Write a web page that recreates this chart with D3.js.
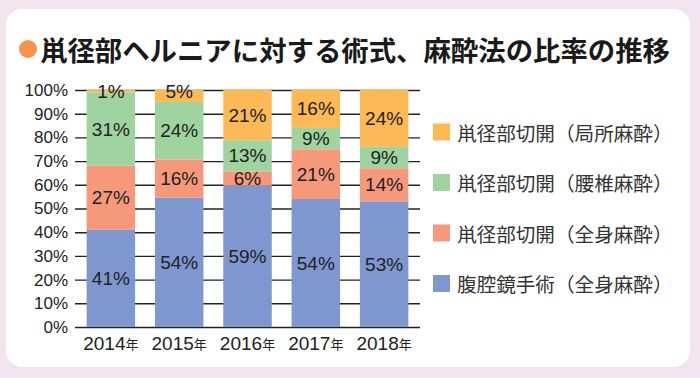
<!DOCTYPE html>
<html><head><meta charset="utf-8">
<script src="https://cdn.jsdelivr.net/npm/d3@7"></script>
<style>
html,body{margin:0;padding:0;background:#f3e5f0;}
svg{display:block;}
</style></head>
<body>
<svg id="chart" width="700" height="378"></svg>
<script>
const years = ["2014", "2015", "2016", "2017", "2018"];
const seriesNames = ["腹腔鏡手術（全身麻酔）", "鼡径部切開（全身麻酔）", "鼡径部切開（腰椎麻酔）", "鼡径部切開（局所麻酔）"];
const laparoscopicGeneral = [41, 54, 59, 54, 53];
const openGeneral = [27, 16, 6, 21, 14];
const openSpinal = [31, 24, 13, 9, 9];
const openLocal = [1, 5, 21, 16, 24];
const yTicks = [0, 10, 20, 30, 40, 50, 60, 70, 80, 90, 100];
const colors = ["#7e97cf", "#f5997a", "#9fd39f", "#fdb956"];
const titleText = "鼡径部ヘルニアに対する術式、麻酔法の比率の推移";

const svg = d3.select("#chart");
svg.append("rect").attr("x", 6).attr("y", 9).attr("width", 684).attr("height", 358)
  .attr("rx", 16).attr("fill", "#ffffff");

svg.append("circle").attr("cx", 28).attr("cy", 49).attr("r", 9).attr("fill", "#f7944a");
svg.append("text").attr("x", 40).attr("y", 49).attr("dominant-baseline", "central")
  .attr("font-family", "'Noto Sans CJK JP'").attr("font-weight", "bold")
  .attr("font-size", 27.4).attr("fill", "#1a1a1a").text(titleText);

const rows = years.map((y, i) => ({
  year: y, s0: laparoscopicGeneral[i], s1: openGeneral[i], s2: openSpinal[i], s3: openLocal[i]
}));
const keys = ["s0", "s1", "s2", "s3"];
const stacked = d3.stack().keys(keys).offset(d3.stackOffsetExpand)(rows);

const x = d3.scaleBand().domain(years).range([75, 420]).paddingInner(0.29).paddingOuter(0.17);
const y = d3.scaleLinear().domain([0, 1]).range([327, 90]);

// grid lines
const yAxis = d3.axisLeft(y).tickValues(yTicks.map(v => v / 100)).tickSize(-345)
  .tickFormat(d => Math.round(d * 100) + "%").tickPadding(7);
const gA = svg.append("g").attr("transform", "translate(75,0)").call(yAxis);
gA.select(".domain").remove();
gA.selectAll(".tick line").attr("stroke", "#222").attr("stroke-width", 1.4);
gA.selectAll(".tick text").attr("font-family", "'Liberation Sans', Arial, sans-serif")
  .attr("font-size", 17).attr("fill", "#222");

const layers = svg.append("g").selectAll("g").data(stacked).join("g")
  .attr("fill", (d, i) => colors[i]);
layers.selectAll("rect").data(d => d).join("rect")
  .attr("x", d => x(d.data.year)).attr("width", x.bandwidth())
  .attr("y", d => y(d[1])).attr("height", d => y(d[0]) - y(d[1]));

// labels
const labelG = svg.append("g");
stacked.forEach((layer, li) => {
  layer.forEach((d, j) => {
    const top = y(d[1]), bot = y(d[0]);
    let cy = (top + bot) / 2;
    if (li === keys.length - 1 && bot - top < 15) cy = top + 1;
    const val = rows[j][keys[li]];
    labelG.append("text").attr("x", x(d.data.year) + x.bandwidth() / 2).attr("y", cy)
      .attr("text-anchor", "middle").attr("dominant-baseline", "central")
      .attr("font-family", "'Liberation Sans', Arial, sans-serif").attr("font-size", 19)
      .attr("fill", "#222").text(val + "%");
  });
});

// x labels
const xl = svg.append("g").selectAll("text").data(years).join("text")
  .attr("x", d => x(d) + x.bandwidth() / 2).attr("y", 343)
  .attr("text-anchor", "middle").attr("dominant-baseline", "central")
  .attr("font-family", "'Liberation Sans', Arial, sans-serif").attr("fill", "#222");
xl.append("tspan").attr("font-size", 19).text(d => d);
xl.append("tspan").attr("font-size", 13).attr("font-family", "'Noto Sans CJK JP'").text("年");

// legend
const legendOrder = [3, 2, 1, 0];
const lg = svg.append("g").selectAll("g").data(legendOrder).join("g")
  .attr("transform", (d, i) => `translate(433,${132 + i * 50.5})`);
lg.append("rect").attr("x", 0).attr("y", -8.5).attr("width", 17).attr("height", 17)
  .attr("fill", d => colors[d]);
lg.append("text").attr("x", 24).attr("y", 0).attr("dominant-baseline", "central")
  .attr("font-family", "'Noto Sans CJK JP'").attr("font-size", 19.6).attr("fill", "#333")
  .text(d => seriesNames[d]);
</script>
</body></html>
